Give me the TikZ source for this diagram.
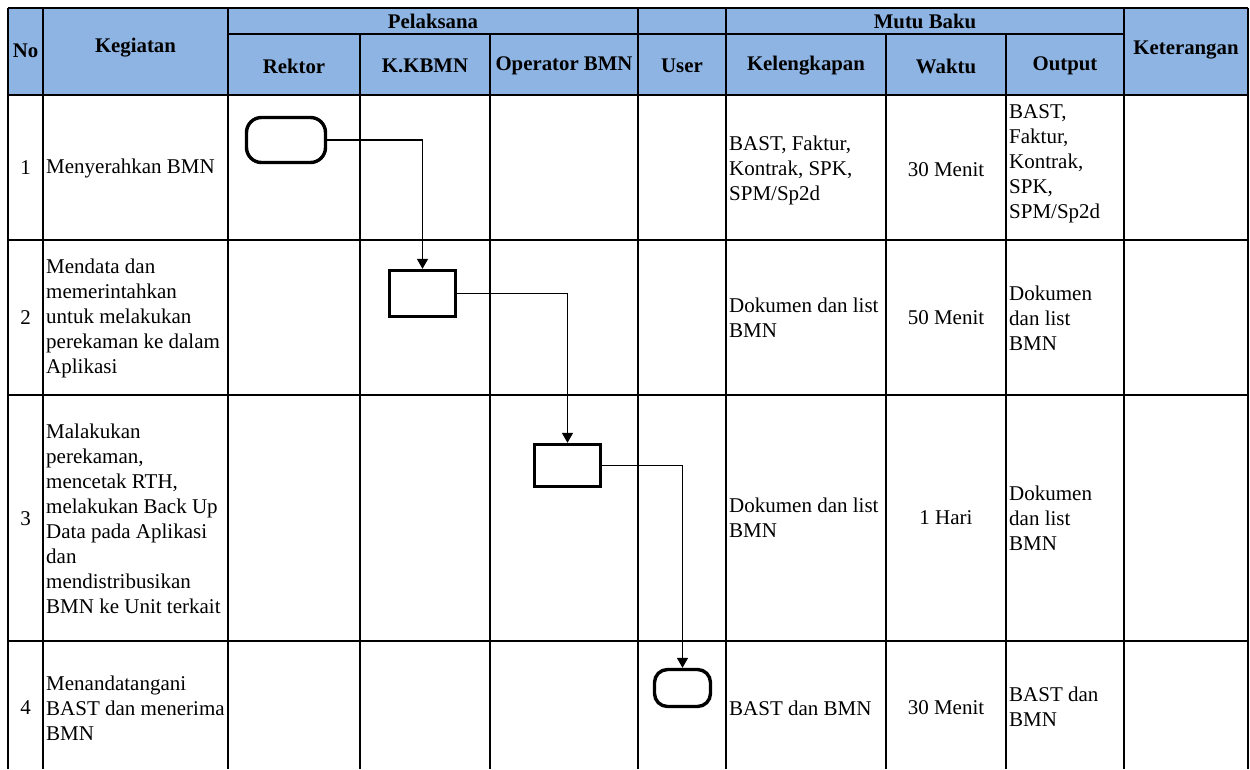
\documentclass[tikz,border=0pt]{standalone}
\usepackage{fontspec}
\setmainfont{Liberation Serif}
\usetikzlibrary{arrows.meta}
\definecolor{hdr}{RGB}{142,180,227}
\begin{document}
\begin{tikzpicture}[x=1pt,y=-1pt,
 grid/.style={line width=1.9pt,black},
 hd/.style={font=\fontsize{20.8}{24}\selectfont\bfseries, inner sep=0pt},
 txt/.style={font=\fontsize{21}{25}\selectfont, align=left, anchor=west, inner sep=0pt},
 ctxt/.style={font=\fontsize{21}{25}\selectfont, align=center, inner sep=0pt},
 term/.style={draw, line width=3.4pt, rounded corners=15pt, inner sep=0pt},
 proc/.style={draw, line width=3.4pt, inner sep=0pt},
 flow/.style={line width=1.5pt, -{Triangle[width=11pt,length=10pt]}}]
\useasboundingbox (0,0) rectangle (1250,769);
\fill[hdr] (8,8) rectangle (1248,95);
% horizontal grid lines
\draw[grid] (8,8) -- (1248,8);
\draw[grid] (228,34) -- (1124,34);
\draw[grid] (8,95) -- (1248,95);
\draw[grid] (8,240) -- (1248,240);
\draw[grid] (8,395) -- (1248,395);
\draw[grid] (8,641) -- (1248,641);
% vertical grid lines
\foreach \x in {8,43,228,638,726,1124,1248} \draw[grid] (\x,8) -- (\x,769);
\foreach \x in {360,490,886,1006} \draw[grid] (\x,34) -- (\x,769);
% header
\node[hd] (hNo) at (25.5,51) {No};
\node[hd] (hKeg) at (135.5,48) {Kegiatan};
\node[hd] (hPel) at (433,21) {Pelaksana};
\node[hd] (hMutu) at (925,21) {Mutu Baku};
\node[hd] (hKet) at (1186,50) {Keterangan};
\node[hd] (hRek) at (294,66) {Rektor};
\node[hd] (hKK) at (425,66) {K.KBMN};
\node[hd] (hOp) at (564,66) {Operator BMN};
\node[hd] (hUser) at (682,66) {User};
\node[hd] (hKel) at (806,66) {Kelengkapan};
\node[hd] (hWak) at (946,66) {Waktu};
\node[hd] (hOut) at (1065,66) {Output};
% numbers
\node[ctxt] (n1) at (25.5,168) {1};
\node[ctxt] (n2) at (25.5,318) {2};
\node[ctxt] (n3) at (25.5,519) {3};
\node[ctxt] (n4) at (25.5,708) {4};
% kegiatan
\node[txt] (k1) at (46,168) {Menyerahkan BMN};
\node[txt] (k2) at (46,318) {Mendata dan\\memerintahkan\\untuk melakukan\\perekaman ke dalam\\Aplikasi};
\node[txt] (k3) at (46,519) {Malakukan\\perekaman,\\mencetak RTH,\\melakukan Back Up\\Data pada Aplikasi\\dan\\mendistribusikan\\BMN ke Unit terkait};
\node[txt] (k4) at (46,708) {Menandatangani\\BAST dan menerima\\BMN};
% kelengkapan
\node[txt] (l1) at (729,170) {BAST, Faktur,\\Kontrak, SPK,\\SPM/Sp2d};
\node[txt] (l2) at (729,318) {Dokumen dan list\\BMN};
\node[txt] (l3) at (729,518) {Dokumen dan list\\BMN};
\node[txt] (l4) at (729,708) {BAST dan BMN};
% waktu
\node[ctxt] (w1) at (946,170) {30 Menit};
\node[ctxt] (w2) at (946,318) {50 Menit};
\node[ctxt] (w3) at (946,518) {1 Hari};
\node[ctxt] (w4) at (946,708) {30 Menit};
% output
\node[txt] (o1) at (1009,164) {BAST,\\Faktur,\\Kontrak,\\SPK,\\SPM/Sp2d};
\node[txt] (o2) at (1009,318) {Dokumen\\dan list\\BMN};
\node[txt] (o3) at (1009,518) {Dokumen\\dan list\\BMN};
\node[txt] (o4) at (1009,707) {BAST dan\\BMN};
% flow shapes
\node[term, minimum width=79pt, minimum height=45pt] (s1) at (286,140) {};
\node[proc, minimum width=66pt, minimum height=46pt] (s2) at (422.5,293.5) {};
\node[proc, minimum width=66pt, minimum height=42pt] (s3) at (567.5,465.5) {};
\node[term, rounded corners=13pt, minimum width=56pt, minimum height=37pt] (s4) at (682.5,688) {};
\draw[flow] (s1.east) -| (s2.north);
\draw[flow] (s2.east) -| (s3.north);
\draw[flow] (s3.east) -| (s4.north);
\end{tikzpicture}
\end{document}
